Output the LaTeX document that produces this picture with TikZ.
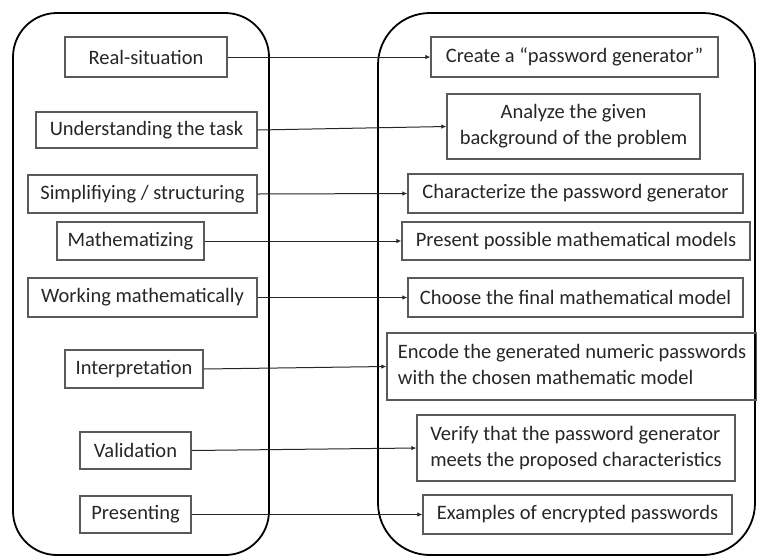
\documentclass[tikz,border=0pt]{standalone}
\usepackage{fontspec}
\setmainfont{Carlito}
\usetikzlibrary{arrows.meta}
\definecolor{boxline}{HTML}{5A5A5A}
\definecolor{txt}{HTML}{262626}
\tikzset{
  frame/.style={draw=black, line width=1.8pt, rounded corners=44pt},
  stage/.style={draw=boxline, line width=1.3pt, inner sep=0pt, text=txt, font=\fontsize{20.5}{25}\selectfont},
  link/.style={draw=black!85, line width=1pt, -{Latex[length=5pt,width=4.5pt]}}
}
\newcommand{\bx}[6]{% name, x1, y1, x2, y2, text
  \node[stage, minimum width={#4-#2}, minimum height={#5-#3}] (#1) at ({(#2+#4)/2},{(#3+#5)/2}) {#6};}
\begin{document}
\begin{tikzpicture}[x=1pt, y=-1pt]
\useasboundingbox (0,0) rectangle (757,558);
\draw[frame] (13,13) rectangle (269,555);
\draw[frame, rounded corners=52pt] (378,13) rectangle (755,555);
% left
\bx{L1}{65}{37}{227}{77}{Real-situation}
\bx{L2}{36}{112}{257}{148}{Understanding the task}
\bx{L3}{28}{175}{257}{213}{Simplifiying / structuring}
\bx{L4}{57}{222}{204}{260}{Mathematizing}
\bx{L5}{28}{278}{257}{317}{Working mathematically}
\bx{L6}{65}{350}{203}{388}{Interpretation}
\bx{L7}{80}{432}{191}{469}{Validation}
\bx{L8}{80}{496}{191}{533}{Presenting}
% right
\bx{R1}{431}{37}{718}{77}{Create a “password generator”}
\bx{R2}{447}{94}{700}{159}{\begin{tabular}{@{}c@{}}Analyze the given\\[1pt] background of the problem\end{tabular}}
\bx{R3}{408}{174}{743}{213}{Characterize the password generator}
\bx{R4}{402}{222}{750}{260}{Present possible mathematical models}
\bx{R5}{408}{278}{743}{317}{Choose the final mathematical model}
\bx{R6}{387}{333}{757}{400}{\begin{tabular}{@{}l@{}}Encode the generated numeric passwords\\[1pt] with the chosen mathematic model\end{tabular}}
\bx{R7}{417}{415}{735}{481}{\begin{tabular}{@{}l@{}}Verify that the password generator\\[1pt] meets the proposed characteristics\end{tabular}}
\bx{R8}{423}{495}{732}{534}{Examples of encrypted passwords}
\foreach \i in {1,...,8} {\draw[link] (L\i.east) -- (R\i.west);}
\end{tikzpicture}
\end{document}
